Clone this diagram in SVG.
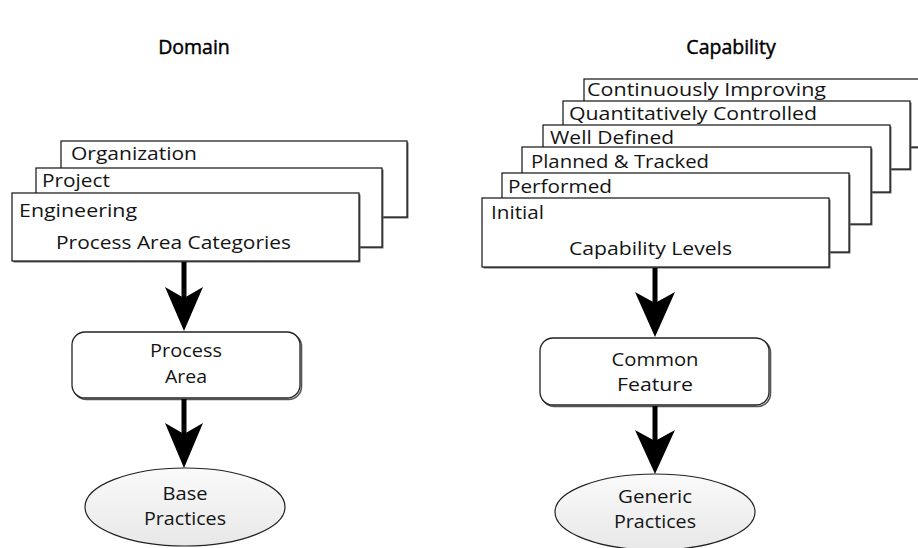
<svg xmlns="http://www.w3.org/2000/svg" width="918" height="548" viewBox="0 0 918 548">
  <defs>
    <linearGradient id="ovalFill" x1="0" y1="0" x2="0" y2="1">
      <stop offset="0" stop-color="#fafafa"/>
      <stop offset="1" stop-color="#e8e8e8"/>
    </linearGradient>
    <style>
      text { font-family: "Open Sans", "Noto Sans", "DejaVu Sans", sans-serif; font-size: 19px; fill: #141414; }
      .title { font-size: 19.5px; fill: #000; stroke: #000; stroke-width: 0.45; text-anchor: middle; }
      .mid { text-anchor: middle; }
      .card { fill: #fff; stroke: #111; stroke-width: 1.2; }
      .card-shadow { fill: #666; stroke: none; }
      .pill { fill: #fff; stroke: #222; stroke-width: 1.3; }
      .pill-shadow { fill: none; stroke: #555; stroke-width: 1.6; }
      .oval { fill: url(#ovalFill); stroke: #222; stroke-width: 1.2; }
      .shaft { stroke: #000; stroke-width: 5; fill: none; }
      .head { fill: #000; stroke: none; }
    </style>
  </defs>

  <rect width="918" height="548" fill="#fff"/>

  <!-- column titles -->
  <text class="title" x="194" y="54">Domain</text>
  <text class="title" x="731" y="54">Capability</text>

  <!-- Domain: stacked process area categories -->
  <g id="organization">
    <rect class="card-shadow" x="62.5" y="142.5" width="346" height="76"/>
    <rect class="card" x="61" y="141" width="346" height="76"/>
    <text x="71" y="160" textLength="126" lengthAdjust="spacingAndGlyphs">Organization</text>
  </g>
  <g id="project">
    <rect class="card-shadow" x="37.5" y="169.5" width="346" height="79"/>
    <rect class="card" x="36" y="168" width="346" height="79"/>
    <text x="42" y="187" textLength="68" lengthAdjust="spacingAndGlyphs">Project</text>
  </g>
  <g id="engineering">
    <rect class="card-shadow" x="13.5" y="194.5" width="347" height="68"/>
    <rect class="card" x="12" y="193" width="347" height="68"/>
    <text x="19" y="217" textLength="118" lengthAdjust="spacingAndGlyphs">Engineering</text>
    <text x="56" y="249" textLength="235" lengthAdjust="spacingAndGlyphs">Process Area Categories</text>
  </g>

  <g id="process-area">
    <rect class="pill-shadow" x="73.5" y="333.5" width="228" height="66" rx="13"/>
    <rect class="pill" x="72" y="332" width="228" height="66" rx="13"/>
    <text class="mid" x="186" y="357" textLength="72" lengthAdjust="spacingAndGlyphs">Process</text>
    <text class="mid" x="186" y="383" textLength="42" lengthAdjust="spacingAndGlyphs">Area</text>
  </g>

  <g id="base-practices">
    <ellipse class="oval" cx="185" cy="507" rx="100" ry="39"/>
    <text class="mid" x="185" y="500" textLength="45" lengthAdjust="spacingAndGlyphs">Base</text>
    <text class="mid" x="185" y="525" textLength="82" lengthAdjust="spacingAndGlyphs">Practices</text>
  </g>

  <!-- Capability: stacked capability levels -->
  <g id="continuously-improving">
    <rect class="card-shadow" x="585.5" y="80.5" width="360" height="68"/>
    <rect class="card" x="584" y="79" width="360" height="68"/>
    <text x="587" y="96" textLength="239" lengthAdjust="spacingAndGlyphs">Continuously Improving</text>
  </g>
  <g id="quantitatively-controlled">
    <rect class="card-shadow" x="564.5" y="102.5" width="347" height="68"/>
    <rect class="card" x="563" y="101" width="347" height="68"/>
    <text x="569" y="120" textLength="248" lengthAdjust="spacingAndGlyphs">Quantitatively Controlled</text>
  </g>
  <g id="well-defined">
    <rect class="card-shadow" x="544.5" y="126.5" width="347" height="67"/>
    <rect class="card" x="543" y="125" width="347" height="67"/>
    <text x="550" y="144" textLength="124" lengthAdjust="spacingAndGlyphs">Well Defined</text>
  </g>
  <g id="planned-tracked">
    <rect class="card-shadow" x="523.5" y="148.5" width="349" height="77"/>
    <rect class="card" x="522" y="147" width="349" height="77"/>
    <text x="531" y="168" textLength="178" lengthAdjust="spacingAndGlyphs">Planned &amp; Tracked</text>
  </g>
  <g id="performed">
    <rect class="card-shadow" x="503.5" y="174.5" width="347" height="79"/>
    <rect class="card" x="502" y="173" width="347" height="79"/>
    <text x="508" y="193" textLength="104" lengthAdjust="spacingAndGlyphs">Performed</text>
  </g>
  <g id="initial">
    <rect class="card-shadow" x="483.5" y="199.5" width="347" height="69"/>
    <rect class="card" x="482" y="198" width="347" height="69"/>
    <text x="491" y="219" textLength="53" lengthAdjust="spacingAndGlyphs">Initial</text>
    <text x="569" y="255" textLength="163" lengthAdjust="spacingAndGlyphs">Capability Levels</text>
  </g>

  <g id="common-feature">
    <rect class="pill-shadow" x="541.5" y="339.5" width="229" height="67" rx="13"/>
    <rect class="pill" x="540" y="338" width="229" height="67" rx="13"/>
    <text class="mid" x="655" y="366" textLength="87" lengthAdjust="spacingAndGlyphs">Common</text>
    <text class="mid" x="655" y="391" textLength="76" lengthAdjust="spacingAndGlyphs">Feature</text>
  </g>

  <g id="generic-practices">
    <ellipse class="oval" cx="655" cy="512" rx="100" ry="38"/>
    <text class="mid" x="655" y="503" textLength="74" lengthAdjust="spacingAndGlyphs">Generic</text>
    <text class="mid" x="655" y="528" textLength="82" lengthAdjust="spacingAndGlyphs">Practices</text>
  </g>

  <!-- connectors: heavy arrows with swept-back heads -->
  <g id="connectors">
    <line class="shaft" x1="184" y1="262" x2="184" y2="300"/>
    <path class="head" d="M165,287 L184,298 L203,287 L184,331 Z"/>

    <line class="shaft" x1="184" y1="399" x2="184" y2="436"/>
    <path class="head" d="M165,423 L184,434 L203,423 L184,468 Z"/>

    <line class="shaft" x1="655" y1="268" x2="655" y2="305"/>
    <path class="head" d="M635,292 L655,303 L675,292 L655,337 Z"/>

    <line class="shaft" x1="655" y1="406" x2="655" y2="443"/>
    <path class="head" d="M635,430 L655,441 L675,430 L655,474 Z"/>
  </g>
</svg>
